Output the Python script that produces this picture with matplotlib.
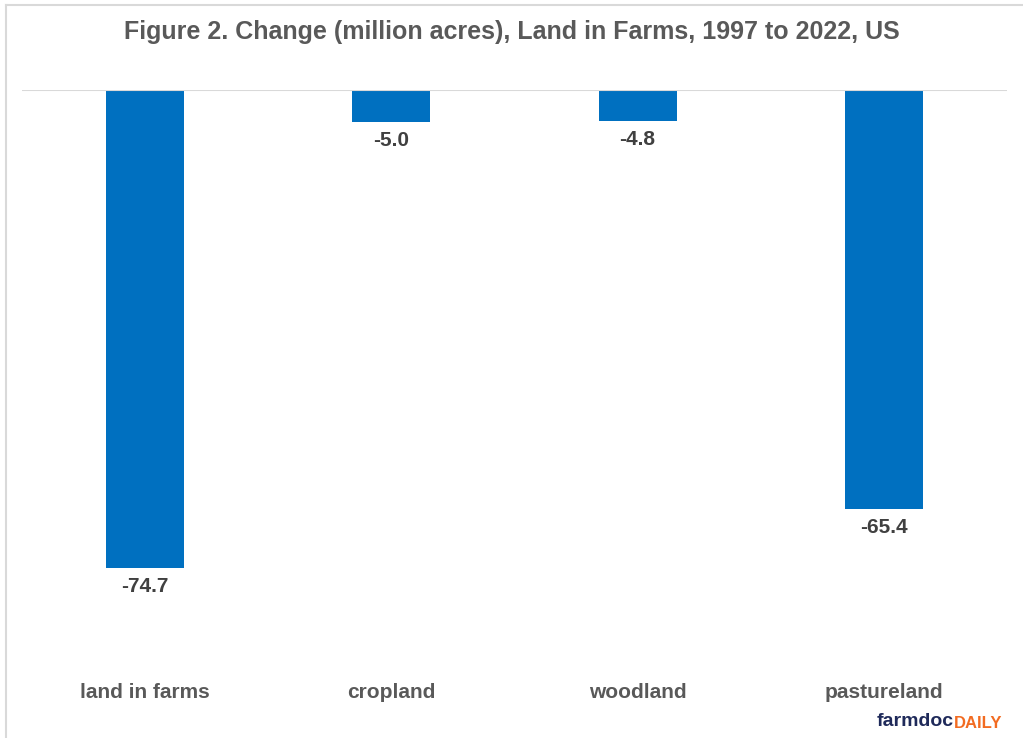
import matplotlib
matplotlib.use('Agg')
from matplotlib import pyplot as plt
from matplotlib.lines import Line2D

plt.rcParams['font.family'] = ['Liberation Sans', 'DejaVu Sans']

categories = ['land in farms', 'cropland', 'woodland', 'pastureland']
changes = [-74.7, -5.0, -4.8, -65.4]

W, H = 1023, 738
fig = plt.figure(figsize=(W / 100, H / 100), dpi=100)

# light gray frame (only left and top visible, runs off the image)
fig.add_artist(Line2D([5.5 / W, 5.5 / W], [0, 1 - 4.5 / H], color='#d9d9d9', lw=1.5))
fig.add_artist(Line2D([5.5 / W, 1], [1 - 4.5 / H, 1 - 4.5 / H], color='#d9d9d9', lw=1.5))

ax = fig.add_axes([22 / W, 1 - 666 / H, 985 / W, 576 / H])
x = range(len(categories))
bars = ax.bar(x, changes, width=0.317, color='#0070c0')
ax.set_xlim(-0.5, len(categories) - 0.5)
ax.set_ylim(-90, 0)
ax.axhline(0, color='#d9d9d9', lw=1.5)

for b, v in zip(bars, changes):
    ax.annotate('%.1f' % v, (b.get_x() + b.get_width() / 2, v),
                xytext=(0, -6.5), textcoords='offset points', ha='center', va='top',
                fontsize=15, fontweight='bold', color='#404040')

ax.set_xticks(list(x))
ax.set_xticklabels(categories, fontsize=15, fontweight='bold', color='#595959')
ax.tick_params(axis='x', length=0, pad=12.5)
ax.set_yticks([])
for s in ax.spines.values():
    s.set_visible(False)

fig.text(0.5, 1 - 32 / H, 'Figure 2. Change (million acres), Land in Farms, 1997 to 2022, US',
         ha='center', va='center', fontsize=18, fontweight='bold', color='#595959')

# logo
t1 = fig.text(1002 / W, 1 - 723 / H, 'DAILY', ha='right', va='center',
              fontsize=12, fontweight='bold', color='#f26b21')
fig.canvas.draw()
bb = t1.get_window_extent()
fig.text(bb.x0 / W, 1 - 721 / H, 'farmdoc', ha='right', va='center',
         fontsize=14, fontweight='bold', color='#1f2a5a')

fig.savefig('out.png', dpi=100)
